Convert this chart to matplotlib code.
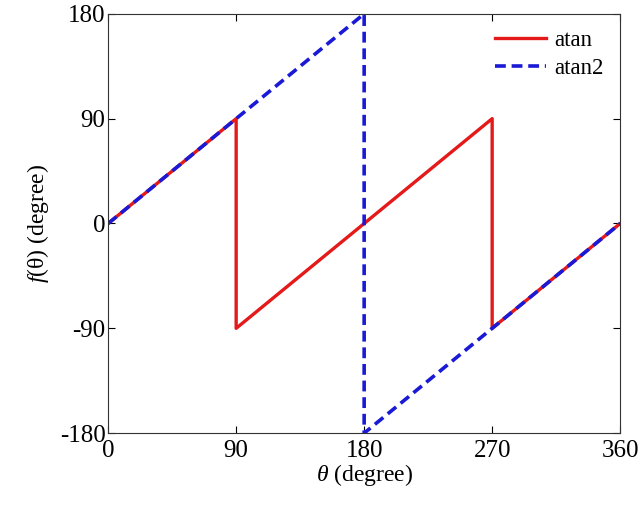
import numpy as np
import matplotlib
matplotlib.use('Agg')
import matplotlib.pyplot as plt

plt.rcParams['font.family'] = ['Liberation Serif', 'DejaVu Serif']
plt.rcParams['mathtext.fontset'] = 'custom'
plt.rcParams['mathtext.rm'] = 'Liberation Serif'
plt.rcParams['mathtext.it'] = 'Liberation Serif:italic'
plt.rcParams['axes.unicode_minus'] = False

# breakpoints of the two curves (degrees)
thetaAtan = [0, 90, 90, 270, 270, 360]
valAtan = [0, 90, -90, 90, -90, 0]
thetaAtan2 = [0, 180, 180, 360]
valAtan2 = [0, 180, -180, 0]

xTicks = [0, 90, 180, 270, 360]
yTicks = [-180, -90, 0, 90, 180]

fig = plt.figure(figsize=(6.4, 5.12), dpi=100)
ax = fig.add_axes([0.169, 0.154, 0.8, 0.819])

ax.plot(thetaAtan, valAtan, color='#e41a1a', lw=2.4, label='atan')
ax.plot(thetaAtan2, valAtan2, color='#1a1ad6', lw=2.6, ls=(0, (3, 1.6)),
        label='atan2')

ax.set_xlim(0, 360)
ax.set_ylim(-180, 180)
ax.set_xticks(xTicks)
ax.set_yticks(yTicks)
ax.tick_params(direction='in', top=True, right=True, length=5,
               labelsize=18, width=0.8, pad=2)
ax.tick_params(axis='x', pad=5)
for s in ax.spines.values():
    s.set_linewidth(0.8)
    s.set_color('#333333')

ax.set_xlabel(r'$\mathit{\theta}$ (degree)', fontsize=17, labelpad=0)
ax.set_ylabel(r'$f$(θ) (degree)', fontsize=17, labelpad=6)

ax.legend(loc='upper right', frameon=False, fontsize=16.5, handlelength=2.2,
          handletextpad=0.4, labelspacing=0.3, borderaxespad=0.3)

fig.savefig('out.png', dpi=100)
